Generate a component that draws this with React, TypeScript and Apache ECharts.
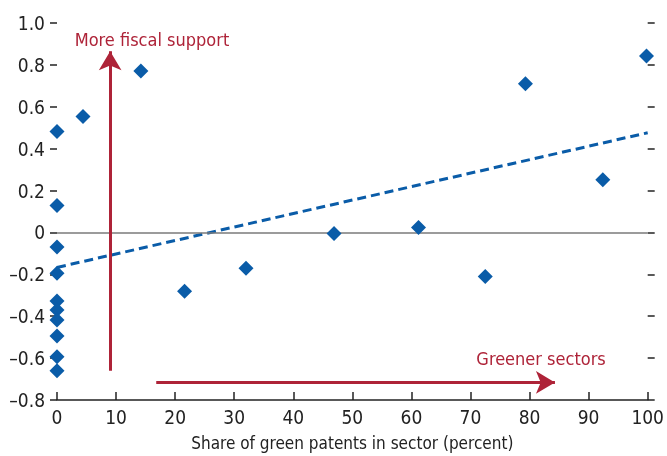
import React, { useEffect, useRef } from "react";
import * as echarts from "echarts";

const xLabels = ["0", "10", "20", "30", "40", "50", "60", "70", "80", "90", "100"];
const yTicks = [-0.8, -0.6, -0.4, -0.2, 0, 0.2, 0.4, 0.6, 0.8, 1.0];

// share of green patents (percent), change in fiscal support
const sectorX = [0, 0, 0, 0, 0, 0, 0, 0, 0, 0, 4.4, 14.2, 21.6, 32.0, 46.9, 61.2, 72.5, 79.3, 92.4, 99.8];
const sectorY = [0.482, 0.129, -0.07, -0.195, -0.327, -0.37, -0.418, -0.494, -0.594, -0.66, 0.554, 0.771, -0.281, -0.171, -0.005, 0.024, -0.21, 0.71, 0.252, 0.843];

const trendX = [0, 100];
const trendY = [-0.167, 0.476];

const fiscalArrow = [[9, -0.66], [9, 0.865]];
const greenerArrow = [[16.8, -0.716], [84.3, -0.716]];
const fiscalLabel = { text: "More fiscal support", x: 3.0, y: 0.92 };
const greenerLabel = { text: "Greener sectors", x: 92.9, y: -0.6 };

const FONT = "'DejaVu Sans Condensed', 'Liberation Sans Narrow', 'Roboto', sans-serif";
const RED = "#AE2338";
const BLUE = "#0A5CA8";

export default function App() {
  const ref = useRef<HTMLDivElement>(null);
  useEffect(() => {
    if (!ref.current) return;
    const chart = echarts.init(ref.current, undefined, { renderer: "svg" });
    const fmtY = (v: number) => {
      if (Math.abs(v) < 1e-9) return "0";
      return v.toFixed(1).replace("-", "\u2013");
    };
    const arrowLine = (pts: number[][]) => ({
      silent: true,
      symbol: ["none", "arrow"],
      symbolSize: [17, 19],
      label: { show: false },
      lineStyle: { color: RED, width: 3, type: "solid" },
      data: [[{ coord: pts[0] }, { coord: pts[1] }]],
    });
    chart.setOption({
      animation: false,
      textStyle: { fontFamily: FONT },
      grid: { left: 57, right: 17, top: 23, bottom: 55, containLabel: false },
      xAxis: {
        type: "value",
        min: 0,
        max: 100,
        interval: 10,
        name: "Share of green patents in sector (percent)",
        nameLocation: "middle",
        nameGap: 34,
        nameTextStyle: { fontFamily: FONT, fontSize: 17, color: "#222" },
        axisLine: { show: true, onZero: false, lineStyle: { color: "#222", width: 1.5 } },
        axisTick: { show: true, inside: true, length: 8, lineStyle: { color: "#222", width: 1.5 } },
        axisLabel: {
          fontFamily: FONT,
          fontSize: 19,
          color: "#222",
          margin: 7,
          formatter: (v: number) => xLabels[Math.round(v / 10)] ?? String(v),
        },
        splitLine: { show: false },
      },
      yAxis: [
        {
          type: "value",
          min: yTicks[0],
          max: yTicks[yTicks.length - 1],
          interval: 0.2,
          axisLine: { show: false },
          axisTick: { show: true, inside: false, length: 7, lineStyle: { color: "#222", width: 1.5 } },
          axisLabel: { fontFamily: FONT, fontSize: 19, color: "#222", margin: 12, formatter: fmtY },
          splitLine: { show: false },
        },
        {
          type: "value",
          position: "right",
          min: yTicks[0],
          max: yTicks[yTicks.length - 1],
          interval: 0.2,
          axisLine: { show: false },
          axisTick: { show: true, inside: false, length: 7, lineStyle: { color: "#222", width: 1.5 } },
          axisLabel: { show: false },
          splitLine: { show: false },
        },
      ],
      series: [
        {
          type: "line",
          data: [],
          silent: true,
          markLine: {
            silent: true,
            symbol: ["none", "none"],
            label: { show: false },
            lineStyle: { color: "#7a7a7a", width: 1.5, type: "solid" },
            data: [{ yAxis: 0 }],
          },
        },
        {
          type: "line",
          data: trendX.map((x, i) => [x, trendY[i]]),
          showSymbol: false,
          symbol: "none",
          lineStyle: { color: BLUE, width: 3, type: [9, 5] },
          z: 3,
        },
        {
          type: "line",
          data: [],
          markLine: arrowLine(fiscalArrow),
        },
        {
          type: "line",
          data: [],
          markLine: arrowLine(greenerArrow),
        },
        {
          type: "scatter",
          symbol: "diamond",
          symbolSize: 15,
          itemStyle: { color: BLUE, opacity: 1 },
          data: sectorX.map((x, i) => [x, sectorY[i]]),
          z: 5,
        },
      ],
    });
    const p1 = chart.convertToPixel({ gridIndex: 0 }, [fiscalLabel.x, fiscalLabel.y]);
    const p2 = chart.convertToPixel({ gridIndex: 0 }, [greenerLabel.x, greenerLabel.y]);
    chart.setOption({
      graphic: [
        {
          type: "text",
          x: p1[0],
          y: p1[1],
          style: {
            text: fiscalLabel.text,
            fill: RED,
            font: `18px ${FONT}`,
            textAlign: "left",
            textVerticalAlign: "middle",
          },
        },
        {
          type: "text",
          x: p2[0],
          y: p2[1],
          style: {
            text: greenerLabel.text,
            fill: RED,
            font: `18px ${FONT}`,
            textAlign: "right",
            textVerticalAlign: "middle",
          },
        },
      ],
    });
    return () => chart.dispose();
  }, []);
  return <div ref={ref} style={{ position: "fixed", left: 0, top: 0, width: 667, height: 456 }} />;
}
